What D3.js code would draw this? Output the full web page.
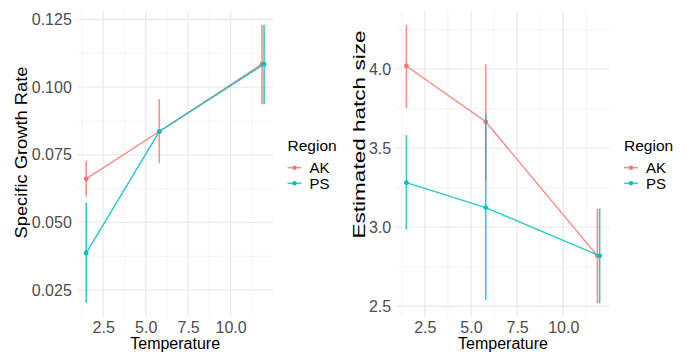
<!DOCTYPE html>
<html>
<head>
<meta charset="utf-8">
<script src="https://cdn.jsdelivr.net/npm/d3@7"></script>
<style>
  body { margin: 0; background: #fff; }
  svg { display: block; font-family: "Liberation Sans", Arial, sans-serif; }
</style>
</head>
<body>
<div id="chart"></div>
<script>
// data
const regions = ['AK', 'PS'];
const regionColors = ['#F8766D', '#00BFC4'];

const tempAK = [1.5, 5.8, 11.85];
const tempPS = [1.5, 5.8, 11.97];

// specific growth rate (mean, lower, upper)
const growthAK = [0.0661, 0.0836, 0.1085];
const growthAKLo = [0.0596, 0.0719, 0.0937];
const growthAKHi = [0.0728, 0.0956, 0.1230];
const growthPS = [0.0387, 0.0836, 0.1085];
const growthPSLo = [0.0202, 0.0836, 0.0937];
const growthPSHi = [0.0574, 0.0836, 0.1230];

// estimated hatch size (mean, lower, upper)
const hatchAK = [4.02, 3.667, 2.819];
const hatchAKLo = [3.756, 3.30, 2.52];
const hatchAKHi = [4.28, 4.03, 3.118];
const hatchPS = [3.282, 3.124, 2.819];
const hatchPSLo = [2.985, 2.54, 2.52];
const hatchPSHi = [3.584, 3.714, 3.118];

const xTicks = [2.5, 5.0, 7.5, 10.0];
const growthTicks = [0.025, 0.050, 0.075, 0.100, 0.125];
const hatchTicks = [2.5, 3.0, 3.5, 4.0];

const svg = d3.select('#chart').append('svg')
    .attr('width', 686)
    .attr('height', 354);

// build rows for one panel
function makeSeries(temps, vals, lo, hi) {
    return temps.map((t, i) => ({ x: t, y: vals[i], lo: lo[i], hi: hi[i] }));
}

// ggplot style 5% expansion
function padded(ext) {
    const d = (ext[1] - ext[0]) * 0.05;
    return [ext[0] - d, ext[1] + d];
}

function drawPanel(opt) {
    const g = svg.append('g');
    const all = opt.series.flat();

    const x = d3.scaleLinear()
        .domain(padded(d3.extent(all, d => d.x)))
        .range([opt.left, opt.right]);
    const y = d3.scaleLinear()
        .domain(padded([d3.min(all, d => d.lo), d3.max(all, d => d.hi)]))
        .range([opt.bottom, opt.top]);

    // minor grid
    const xMinor = xTicks.map(t => t - 1.25).concat([xTicks[xTicks.length - 1] + 1.25]);
    const yStep = opt.yTicks[1] - opt.yTicks[0];
    const yMinor = opt.yTicks.map(t => t - yStep / 2).concat([opt.yTicks[opt.yTicks.length - 1] + yStep / 2])
        .filter(v => v > y.domain()[0] && v < y.domain()[1]);

    g.selectAll('.vminor').data(xMinor).join('line')
        .attr('x1', d => x(d)).attr('x2', d => x(d))
        .attr('y1', opt.top).attr('y2', opt.bottom)
        .attr('stroke', '#f2f2f2').attr('stroke-width', 0.8);
    g.selectAll('.hminor').data(yMinor).join('line')
        .attr('x1', opt.left).attr('x2', opt.right)
        .attr('y1', d => y(d)).attr('y2', d => y(d))
        .attr('stroke', '#f2f2f2').attr('stroke-width', 0.8);

    // major grid
    g.selectAll('.vmajor').data(xTicks).join('line')
        .attr('x1', d => x(d)).attr('x2', d => x(d))
        .attr('y1', opt.top).attr('y2', opt.bottom)
        .attr('stroke', '#ebebeb').attr('stroke-width', 1.3);
    g.selectAll('.hmajor').data(opt.yTicks).join('line')
        .attr('x1', opt.left).attr('x2', opt.right)
        .attr('y1', d => y(d)).attr('y2', d => y(d))
        .attr('stroke', '#ebebeb').attr('stroke-width', 1.3);

    // axes (no domain line, no ticks, like theme_minimal)
    const xAxis = g.append('g')
        .attr('transform', `translate(0,${opt.bottom})`)
        .call(d3.axisBottom(x).tickValues(xTicks).tickFormat(d3.format('.1f')).tickSize(0).tickPadding(5));
    const yAxis = g.append('g')
        .attr('transform', `translate(${opt.left},0)`)
        .call(d3.axisLeft(y).tickValues(opt.yTicks).tickFormat(d3.format(opt.yFormat)).tickSize(0).tickPadding(5.5));
    [xAxis, yAxis].forEach(a => {
        a.select('.domain').remove();
        a.selectAll('text')
            .attr('fill', '#4d4d4d')
            .style('font-size', '16px')
            .style('font-family', '"Liberation Sans", Arial, sans-serif');
    });

    // axis titles
    g.append('text')
        .attr('x', (opt.left + opt.right) / 2)
        .attr('y', 349)
        .attr('text-anchor', 'middle')
        .style('font-size', '16px')
        .attr('fill', '#000')
        .text('Temperature');

    g.append('text')
        .attr('transform', `translate(${opt.yTitleX},${opt.yTitleY}) rotate(-90)`)
        .attr('text-anchor', 'middle')
        .attr('textLength', opt.yTitleLen)
        .attr('lengthAdjust', 'spacingAndGlyphs')
        .style('font-size', '16px')
        .attr('fill', '#000')
        .text(opt.yTitle);

    const line = d3.line().x(d => x(d.x)).y(d => y(d.y));

    opt.series.forEach((s, i) => {
        const col = regionColors[i];
        const sg = g.append('g');
        sg.selectAll('.err').data(s).join('line')
            .attr('x1', d => x(d.x)).attr('x2', d => x(d.x))
            .attr('y1', d => y(d.lo)).attr('y2', d => y(d.hi))
            .attr('stroke', col).attr('stroke-width', 1.6).attr('stroke-opacity', 0.8);
        sg.append('path').datum(s)
            .attr('d', line)
            .attr('fill', 'none')
            .attr('stroke', col).attr('stroke-width', 1.4).attr('stroke-opacity', 0.85);
        sg.selectAll('.pt').data(s).join('circle')
            .attr('cx', d => x(d.x)).attr('cy', d => y(d.y))
            .attr('r', 2.4)
            .attr('fill', col);
    });

    // legend
    const lg = g.append('g').attr('transform', `translate(${opt.legendX},0)`);
    lg.append('text')
        .attr('x', 0).attr('y', 151)
        .style('font-size', '15.5px')
        .attr('fill', '#000')
        .text('Region');
    regions.forEach((r, i) => {
        const ly = 167.7 + i * 15.5;
        lg.append('line')
            .attr('x1', 0).attr('x2', 14)
            .attr('y1', ly).attr('y2', ly)
            .attr('stroke', regionColors[i]).attr('stroke-width', 1.4).attr('stroke-opacity', 0.85);
        lg.append('circle')
            .attr('cx', 7).attr('cy', ly).attr('r', 2.2)
            .attr('fill', regionColors[i]);
        lg.append('text')
            .attr('x', 22).attr('y', ly)
            .attr('dy', '0.36em')
            .style('font-size', '15px')
            .attr('fill', '#000')
            .text(r);
    });
}

drawPanel({
    left: 77.3, right: 273, top: 11, bottom: 317,
    series: [makeSeries(tempAK, growthAK, growthAKLo, growthAKHi),
             makeSeries(tempPS, growthPS, growthPSLo, growthPSHi)],
    yTicks: growthTicks, yFormat: '.3f',
    yTitle: 'Specific Growth Rate', yTitleX: 27, yTitleY: 152.5, yTitleLen: 172,
    legendX: 287.5
});

drawPanel({
    left: 396.7, right: 609.3, top: 11, bottom: 317,
    series: [makeSeries(tempAK, hatchAK, hatchAKLo, hatchAKHi),
             makeSeries(tempPS, hatchPS, hatchPSLo, hatchPSHi)],
    yTicks: hatchTicks, yFormat: '.1f',
    yTitle: 'Estimated hatch size', yTitleX: 365, yTitleY: 134.5, yTitleLen: 208,
    legendX: 624
});
</script>
</body>
</html>
